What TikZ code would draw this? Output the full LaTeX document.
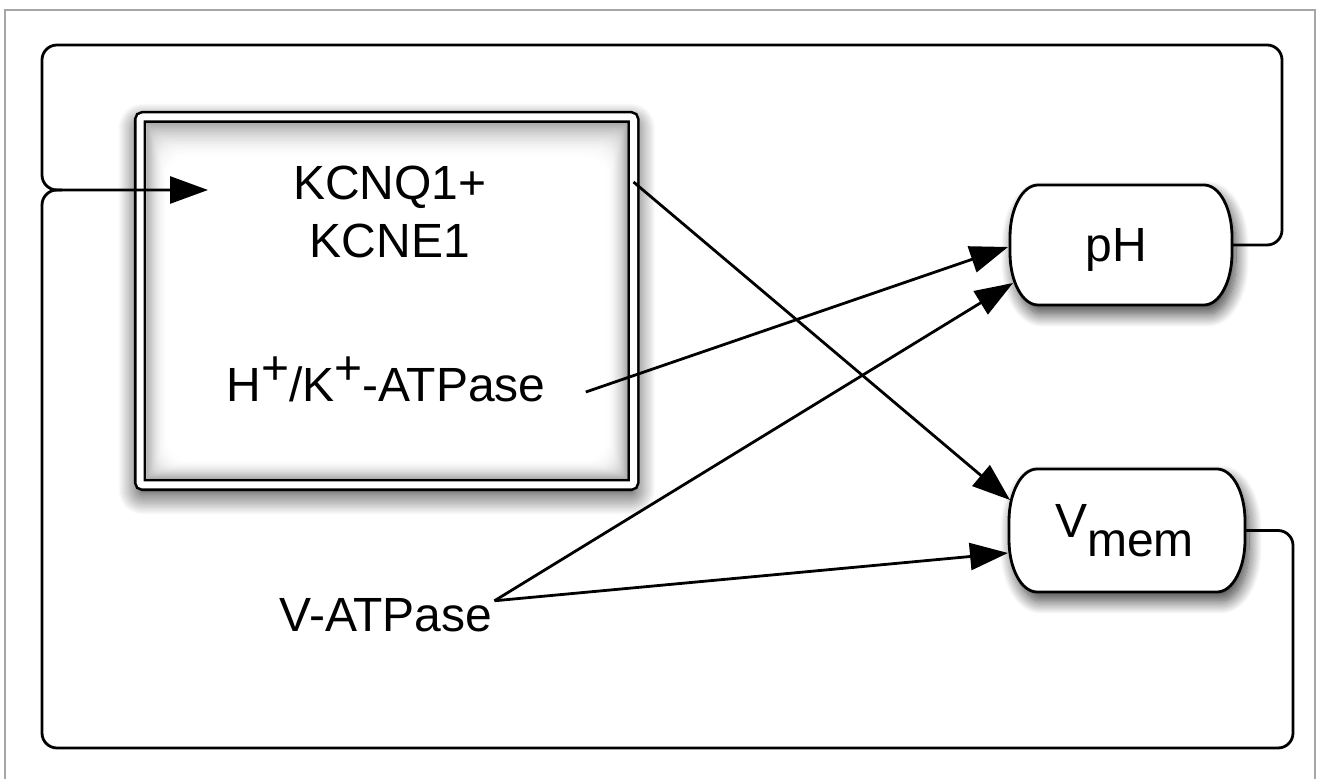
\documentclass[tikz,border=0pt]{standalone}
\usepackage{fontspec}
\setmainfont{Liberation Sans}
\usetikzlibrary{arrows.meta,calc,shadows.blur}

\tikzset{
  wire/.style={line width=2.8pt, line join=round, draw=black},
  flow/.style={wire, -{Triangle[length=38pt,width=27pt,fill=black]}},
  feedback/.style={wire, rounded corners=15pt},
  lbl/.style={font=\fontsize{48}{58}\selectfont, inner sep=0pt, anchor=base},
  statebox/.style={draw=none, inner sep=0pt, outer sep=0pt, rectangle},
  capsule/.style={draw, line width=2.8pt, fill=white,
    blur shadow={shadow xshift=4pt, shadow yshift=-9pt,
      shadow blur radius=13pt, shadow blur steps=16, shadow opacity=75}},
  framerule/.style={draw=black!35, line width=2pt},
  pumpbox/.style={draw, double, line width=2.6pt, double distance=7pt,
    fill=white, rounded corners=3pt, inner sep=0pt, outer sep=0pt,
    blur shadow={shadow xshift=0pt, shadow yshift=-8pt,
      shadow blur radius=22pt, shadow blur steps=24, shadow opacity=90}},
}

% rounded capsule outline with elliptical corners around a named node
\newcommand\capsulepath[3]{%
  \path[capsule] ($(#1.north west)+(#2,0)$) -- ($(#1.north east)+(-#2,0)$)
    arc[start angle=90,end angle=0,x radius=#2,y radius=#3]
    -- ($(#1.south east)+(0,#3)$)
    arc[start angle=0,end angle=-90,x radius=#2,y radius=#3]
    -- ($(#1.south west)+(#2,0)$)
    arc[start angle=270,end angle=180,x radius=#2,y radius=#3]
    -- ($(#1.north west)+(0,-#3)$)
    arc[start angle=180,end angle=90,x radius=#2,y radius=#3] -- cycle;
}

\begin{document}
\begin{tikzpicture}[x=1pt,y=1pt]
\useasboundingbox (0,0) rectangle (1319,779);

% outer frame
\draw[framerule] (5,0) -- (5,769) -- (1315,769) -- (1315,0);

% state nodes
\node[statebox, minimum width=222pt, minimum height=120pt] (ph) at (1121,534) {};
\node[statebox, minimum width=236pt, minimum height=123pt] (vm) at (1127,248.5) {};
\capsulepath{ph}{28}{52}
\capsulepath{vm}{28}{52}

% pump box with inset shading (heavier along the top edge)
\node[pumpbox, minimum width=493.5pt, minimum height=368pt] (box) at (386.75,478) {};
\begin{scope}
  \clip (146.25,300.25) rectangle (627.25,655.75);
  \foreach \i in {0,...,24} {
    \pgfmathsetmacro\tone{32*(1-\i/24)^2}
    \fill[black!\tone, rounded corners=\i*1pt]
      (146.25+\i*0.9, 300.25+\i*0.8) rectangle (627.25-\i*0.9, 655.75-\i*1.5);
  }
\end{scope}

% labels
\node[lbl, align=center] (kcnq) at (390,521) {KCNQ1+\\KCNE1};
\node[lbl] (hk) at (386,377) {H\raisebox{17pt}{+}/K\raisebox{17pt}{+}-ATPase};
\node[lbl] (vat) at (386,147) {V-ATPase};
\node[lbl] (phlabel) at (1116,517) {pH};
\node[lbl, anchor=base west] (vmlabel) at (1055,241) {V\raisebox{-19pt}{mem}};

% feedback loops
\coordinate (entry) at (208,589);
\draw[feedback] (vm.east) -| (1293,31) -| (42,589) -- (62,589);
\draw[feedback, flow] (ph.east) -| (1282,734) -| (42,589) -- (entry);

% influences
\draw[flow] ([yshift=-65pt]box.north east) -- ([xshift=1pt,yshift=-31pt]vm.north west);
\draw[flow] ([xshift=40pt,yshift=10pt]hk.base east) -- ([xshift=-2pt,yshift=-2pt]ph.west);
\draw[flow] ([xshift=2pt,yshift=-2pt]vat.north east) -- ([xshift=3pt,yshift=22pt]ph.south west);
\draw[flow] ([xshift=2pt,yshift=-2pt]vat.north east) -- ([xshift=-1pt,yshift=-22.5pt]vm.west);
\end{tikzpicture}
\end{document}
